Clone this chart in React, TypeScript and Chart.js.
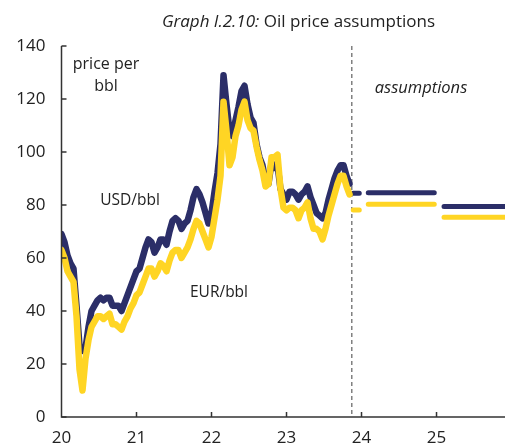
import React, { useEffect, useRef } from 'react';
import { Chart, registerables } from 'chart.js';

Chart.register(...registerables);

const FONT = '"Open Sans", "Noto Sans", sans-serif';
const NAVY = '#2b2e68';
const YELLOW = '#ffd524';

// Historical sample dates (decimal years, 20 = 2020)
const histYears = [
  20.00, 20.04, 20.08, 20.12, 20.16, 20.20, 20.24, 20.28, 20.32, 20.36, 20.40, 20.44, 20.48,
  20.52, 20.56, 20.60, 20.64, 20.68, 20.72, 20.76, 20.80, 20.84, 20.88, 20.92, 20.96,
  21.00, 21.04, 21.08, 21.12, 21.16, 21.20, 21.24, 21.28, 21.32, 21.36, 21.40, 21.44, 21.48,
  21.52, 21.56, 21.60, 21.64, 21.68, 21.72, 21.76, 21.80, 21.84, 21.88, 21.92, 21.96,
  22.00, 22.04, 22.08, 22.12, 22.16, 22.20, 22.24, 22.28, 22.32, 22.36, 22.40, 22.44, 22.48,
  22.52, 22.56, 22.60, 22.64, 22.68, 22.72, 22.76, 22.80, 22.84, 22.88, 22.92, 22.96,
  23.00, 23.04, 23.08, 23.12, 23.16, 23.20, 23.24, 23.28, 23.32, 23.36, 23.40, 23.44, 23.48,
  23.52, 23.56, 23.60, 23.64, 23.68, 23.72, 23.76, 23.80, 23.84,
];

// Oil price in USD per barrel
const usdPrice = [
  69, 66, 61, 58, 56, 42, 27, 25, 26, 34, 40, 42, 44,
  45, 44, 45, 45, 42, 42, 42, 40, 43, 46, 49, 52,
  55, 56, 60, 64, 67, 66, 62, 64, 67, 67, 65, 70, 74,
  75, 74, 71, 73, 74, 78, 83, 86, 84, 81, 77, 73,
  77, 85, 92, 103, 129, 118, 108, 106, 112, 117, 123, 125, 118,
  113, 111, 103, 98, 95, 89, 88, 96, 94, 95, 86,
  84, 82, 85, 85, 84, 82, 84, 85, 87, 83, 80, 77, 76,
  75, 77, 82, 86, 90, 93, 95, 95, 91, 88,
];

// Oil price in EUR per barrel
const eurPrice = [
  63, 60, 55, 53, 51, 38, 18, 10, 22, 29, 34, 36, 38,
  38, 37, 38, 39, 35, 35, 34, 33, 36, 38, 41, 43,
  46, 47, 50, 53, 56, 56, 53, 55, 58, 57, 55, 59, 62,
  63, 63, 60, 62, 64, 67, 71, 74, 73, 70, 67, 64,
  68, 75, 82, 91, 119, 108, 95, 98, 106, 110, 116, 119, 112,
  109, 108, 102, 97, 93, 87, 88, 98, 98, 99, 86,
  79, 78, 79, 79, 78, 75, 78, 79, 81, 75, 71, 71, 70,
  67, 71, 76, 80, 84, 88, 91, 91, 87, 84,
];

// Assumption periods (start / end in decimal years)
const assumptionStart = [23.89, 24.09, 25.10];
const assumptionEnd = [23.97, 24.97, 25.95];
const usdAssumption = [84.4, 84.6, 79.4];
const eurAssumption = [78.1, 80.3, 75.4];

const yTicks = { min: 0, max: 140, step: 20 };
const xTicks = { min: 20, max: 25 };
const cutoffYear = 23.87;

function segments(values: number[]) {
  const pts: { x: number; y: number | null }[] = [];
  values.forEach((v, i) => {
    pts.push({ x: assumptionStart[i], y: v });
    pts.push({ x: assumptionEnd[i], y: v });
    if (i < values.length - 1) {
      pts.push({ x: (assumptionEnd[i] + assumptionStart[i + 1]) / 2, y: null });
    }
  });
  return pts;
}

const decor = {
  id: 'decor',
  beforeDatasetsDraw(chart: any) {
    const { ctx, chartArea, scales } = chart;
    const x = scales.x.getPixelForValue(cutoffYear);
    ctx.save();
    ctx.strokeStyle = '#808080';
    ctx.lineWidth = 1.5;
    ctx.setLineDash([4, 3]);
    ctx.beginPath();
    ctx.moveTo(x, chartArea.top);
    ctx.lineTo(x, chartArea.bottom);
    ctx.stroke();
    ctx.restore();
  },
  afterDraw(chart: any) {
    const { ctx, chartArea, scales } = chart;
    const { left, right, top, bottom } = chartArea;
    ctx.save();
    ctx.strokeStyle = '#333';
    ctx.lineWidth = 1.5;
    ctx.beginPath();
    ctx.moveTo(left, top);
    ctx.lineTo(left, bottom);
    ctx.lineTo(right, bottom);
    ctx.stroke();
    // inward tick marks
    ctx.beginPath();
    for (let v = yTicks.min; v <= yTicks.max; v += yTicks.step) {
      const y = scales.y.getPixelForValue(v);
      ctx.moveTo(left, y);
      ctx.lineTo(left + 5, y);
    }
    for (let v = xTicks.min + 1; v <= xTicks.max; v += 1) {
      const x = scales.x.getPixelForValue(v);
      ctx.moveTo(x, bottom);
      ctx.lineTo(x, bottom - 5);
    }
    ctx.stroke();

    // annotations
    ctx.fillStyle = '#222';
    ctx.textAlign = 'center';
    ctx.textBaseline = 'middle';
    ctx.font = `16px ${FONT}`;
    ctx.fillText('price per', 106, 64);
    ctx.fillText('bbl', 106, 86);
    ctx.font = `15.5px ${FONT}`;
    ctx.fillText('USD/bbl', 130, 201);
    ctx.fillText('EUR/bbl', 219, 293);
    ctx.font = `italic 16.5px ${FONT}`;
    ctx.fillText('assumptions', 421, 88);

    // title (mixed styles)
    const t1 = 'Graph I.2.10:';
    const t2 = ' Oil price assumptions';
    ctx.textBaseline = 'alphabetic';
    ctx.textAlign = 'left';
    ctx.font = `italic 17px ${FONT}`;
    const w1 = ctx.measureText(t1).width;
    ctx.font = `17px ${FONT}`;
    const w2 = ctx.measureText(t2).width;
    const startX = 298.5 - (w1 + w2) / 2;
    ctx.font = `italic 17px ${FONT}`;
    ctx.fillText(t1, startX, 26.5);
    ctx.font = `17px ${FONT}`;
    ctx.fillText(t2, startX + w1, 26.5);
    ctx.restore();
  },
};

export default function App() {
  const ref = useRef<HTMLCanvasElement>(null);
  useEffect(() => {
    const canvas = ref.current;
    if (!canvas) return;
    const histUsd = histYears.map((x, i) => ({ x, y: usdPrice[i] }));
    const histEur = histYears.map((x, i) => ({ x, y: eurPrice[i] }));
    const lineBase = {
      pointRadius: 0,
      tension: 0,
      borderJoinStyle: 'round' as const,
      borderCapStyle: 'round' as const,
      spanGaps: false,
      fill: false,
    };
    const chart = new Chart(canvas, {
      type: 'line',
      data: {
        datasets: [
          { ...lineBase, label: 'EUR/bbl', data: histEur, borderColor: YELLOW, borderWidth: 6.5, order: 1 },
          { ...lineBase, label: 'EUR assumptions', data: segments(eurAssumption), borderColor: YELLOW, borderWidth: 5, order: 1 },
          { ...lineBase, label: 'USD/bbl', data: histUsd, borderColor: NAVY, borderWidth: 6.5, order: 2 },
          { ...lineBase, label: 'USD assumptions', data: segments(usdAssumption), borderColor: NAVY, borderWidth: 5, order: 2 },
        ],
      },
      options: {
        responsive: false,
        animation: false,
        devicePixelRatio: 1,
        layout: { padding: { top: 46, right: 0, left: 0, bottom: 0 } },
        plugins: {
          legend: { display: false },
          tooltip: { enabled: false },
          title: { display: false },
        },
        scales: {
          x: {
            type: 'linear',
            min: 20,
            max: 25.913,
            grid: { display: false, drawTicks: false },
            border: { display: false },
            ticks: {
              stepSize: 1,
              includeBounds: false,
              autoSkip: false,
              maxRotation: 0,
              padding: 11,
              color: '#222',
              font: { family: FONT, size: 17 },
              callback: (v: any) => String(Math.round(Number(v))),
            },
            afterFit: (s: any) => { s.height = 31; },
          },
          y: {
            min: yTicks.min,
            max: yTicks.max,
            grid: { display: false, drawTicks: false },
            border: { display: false },
            ticks: {
              stepSize: yTicks.step,
              padding: 16,
              color: '#222',
              font: { family: FONT, size: 17 },
            },
            afterFit: (s: any) => { s.width = 61.5; },
          },
        },
      },
      plugins: [decor],
    });
    return () => chart.destroy();
  }, []);
  return (
    <div style={{ position: 'absolute', left: 0, top: 0, width: 505, height: 448, background: '#fff' }}>
      <canvas ref={ref} width={505} height={448} style={{ display: 'block' }} />
    </div>
  );
}
